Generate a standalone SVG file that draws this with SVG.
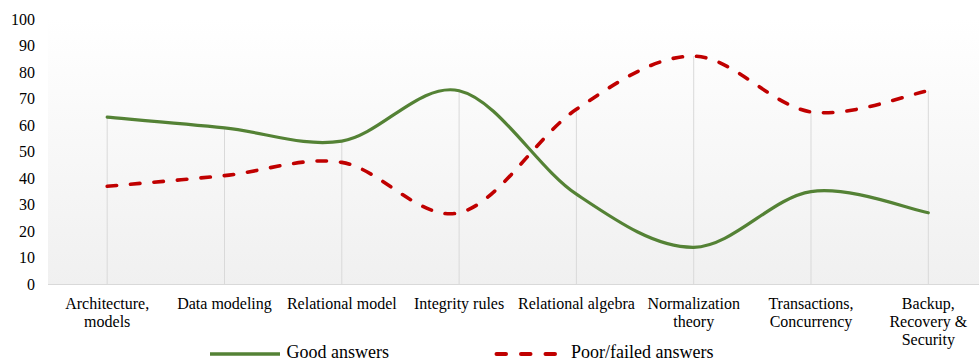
<svg xmlns="http://www.w3.org/2000/svg" width="979" height="362" viewBox="0 0 979 362">
<style>
text{font-family:"Liberation Serif","Times New Roman",serif;fill:#000}
.ax{font-size:16px;text-anchor:end}
.cat{font-size:16px;text-anchor:middle}
.leg{font-size:18px}
.drop{stroke:#d9d9d9;stroke-width:1;fill:none}
.good{stroke:#548235;stroke-width:3.2;fill:none;stroke-linecap:round}
.poor{stroke:#c00000;stroke-width:3.6;fill:none;stroke-linecap:round;stroke-dasharray:9.5 14}
</style>
<defs>
<linearGradient id="bg" x1="0" y1="0" x2="0" y2="1">
<stop offset="0" stop-color="#ffffff"/>
<stop offset="1" stop-color="#f0f0f0"/>
</linearGradient>
</defs>
<rect width="979" height="362" fill="#fff"/>
<rect x="48" y="19" width="931" height="265.5" fill="url(#bg)"/>
<g id="y-axis">
<text class="ax" x="35" y="24.5">100</text>
<text class="ax" x="35" y="51">90</text>
<text class="ax" x="35" y="77.6">80</text>
<text class="ax" x="35" y="104.1">70</text>
<text class="ax" x="35" y="130.7">60</text>
<text class="ax" x="35" y="157.2">50</text>
<text class="ax" x="35" y="183.8">40</text>
<text class="ax" x="35" y="210.3">30</text>
<text class="ax" x="35" y="236.9">20</text>
<text class="ax" x="35" y="263.4">10</text>
<text class="ax" x="35" y="290">0</text>
</g>
<g id="connectors">
<line class="drop" x1="48" y1="284.5" x2="979" y2="284.5"/>
<line class="drop" x1="107.2" y1="117.2" x2="107.2" y2="284.5"/>
<line class="drop" x1="224.5" y1="127.9" x2="224.5" y2="284.5"/>
<line class="drop" x1="341.8" y1="141.1" x2="341.8" y2="284.5"/>
<line class="drop" x1="459.1" y1="90.7" x2="459.1" y2="284.5"/>
<line class="drop" x1="576.4" y1="109.3" x2="576.4" y2="284.5"/>
<line class="drop" x1="693.7" y1="56.2" x2="693.7" y2="284.5"/>
<line class="drop" x1="811" y1="111.9" x2="811" y2="284.5"/>
<line class="drop" x1="928.3" y1="90.7" x2="928.3" y2="284.5"/>
</g>
<g id="series-good">
<path class="good" d="M107.2,117.2 C126.75,118.98 185.4,123.92 224.5,127.9 C263.6,131.88 302.7,147.3 341.8,141.1 C380.9,134.9 420,81.85 459.1,90.7 C498.2,99.55 537.3,168.1 576.4,194.2 C615.5,220.3 654.6,247.73 693.7,247.3 C732.8,246.87 771.9,197.35 811,191.6 C850.1,185.85 908.75,209.27 928.3,212.8"/>
</g>
<g id="series-poor">
<path class="poor" d="M107.2,186.3 C126.75,184.52 185.4,179.58 224.5,175.6 C263.6,171.62 302.7,156.2 341.8,162.4 C380.9,168.6 420,221.65 459.1,212.8 C498.2,203.95 537.3,135.4 576.4,109.3 C615.5,83.2 654.6,55.77 693.7,56.2 C732.8,56.63 771.9,106.15 811,111.9 C850.1,117.65 908.75,94.23 928.3,90.7"/>
</g>
<g id="x-axis">
<text class="cat" x="107.2" y="309">Architecture,</text>
<text class="cat" x="107.2" y="327">models</text>
<text class="cat" x="224.5" y="309">Data modeling</text>
<text class="cat" x="341.8" y="309">Relational model</text>
<text class="cat" x="459.1" y="309">Integrity rules</text>
<text class="cat" x="576.4" y="309">Relational algebra</text>
<text class="cat" x="693.7" y="309">Normalization</text>
<text class="cat" x="693.7" y="327">theory</text>
<text class="cat" x="811" y="309">Transactions,</text>
<text class="cat" x="811" y="327">Concurrency</text>
<text class="cat" x="928.3" y="309">Backup,</text>
<text class="cat" x="928.3" y="327">Recovery &amp;</text>
<text class="cat" x="928.3" y="345">Security</text>
</g>
<g id="legend">
<line x1="210" y1="354" x2="280" y2="354" stroke="#548235" stroke-width="3.6"/>
<text class="leg" x="286.5" y="358">Good answers</text>
<line x1="496.5" y1="354" x2="556" y2="354" stroke="#c00000" stroke-width="4" stroke-linecap="round" stroke-dasharray="9.5 15"/>
<text class="leg" x="571" y="358">Poor/failed answers</text>
</g>
</svg>
